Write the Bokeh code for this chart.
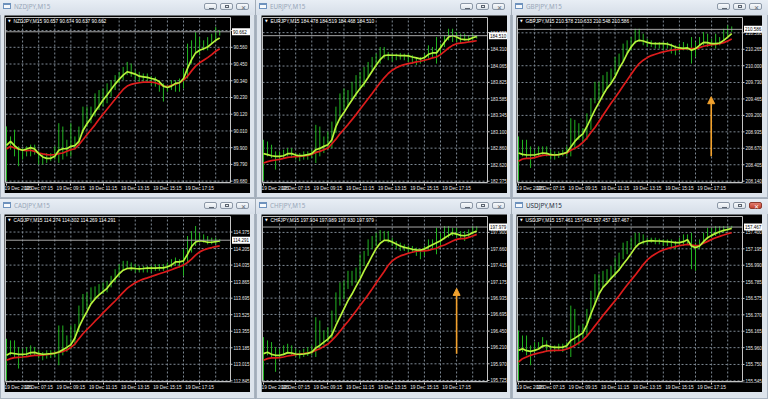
from bokeh.plotting import figure
from bokeh.layouts import row, column
from bokeh.models import Range1d, FixedTicker, Arrow, NormalHead, Div
from bokeh.core.properties import value
from bokeh.embed import file_html
from bokeh.resources import INLINE

# ---------------- shared axis data ----------------
BARS = list(range(54))
TIME_TICKS = [0, 8, 16, 24, 32, 40, 48]
TIME_LABELS = ["19 Dec 2025", "19 Dec 07:15", "19 Dec 09:15", "19 Dec 11:15",
               "19 Dec 13:15", "19 Dec 15:15", "19 Dec 17:15"]
GRID_BARS = list(range(4, 56, 4))

# ---------------- NZDJPY ----------------
NZD_OHLC = [90.657, 90.674, 90.637, 90.662]
NZD_TICKS = [89.680, 89.790, 89.900, 90.010, 90.120, 90.230, 90.340, 90.450, 90.560, 90.670]
NZD_RANGE = (89.671, 90.756)
NZD_HIGH = [90.040, 89.974, 90.018, 89.909, 89.898, 89.909, 89.920, 89.920, 89.876, 89.854,
            89.865, 89.865, 89.909, 90.061, 90.039, 89.952, 90.061, 89.974, 90.039, 90.170,
            90.170, 90.170, 90.257, 90.279, 90.290, 90.323, 90.344, 90.377, 90.399, 90.431,
            90.464, 90.453, 90.410, 90.399, 90.388, 90.388, 90.370, 90.366, 90.344, 90.323,
            90.312, 90.344, 90.344, 90.355, 90.421, 90.584, 90.606, 90.660, 90.627, 90.606,
            90.627, 90.649, 90.693, 90.674]
NZD_LOW = [89.682, 89.887, 89.843, 89.778, 89.822, 89.843, 89.843, 89.854, 89.789, 89.789,
           89.800, 89.811, 89.822, 89.800, 89.822, 89.843, 89.843, 89.887, 89.909, 89.996,
           90.039, 90.061, 90.105, 90.148, 90.170, 90.192, 90.235, 90.279, 90.323, 90.344,
           90.377, 90.366, 90.344, 90.333, 90.333, 90.333, 90.312, 90.301, 90.268, 90.203,
           90.268, 90.279, 90.268, 90.268, 90.290, 90.355, 90.453, 90.529, 90.508, 90.540,
           90.540, 90.584, 90.606, 90.637]
NZD_FAST = [89.915, 89.941, 89.913, 89.891, 89.883, 89.891, 89.900, 89.891, 89.861, 89.839,
            89.830, 89.830, 89.843, 89.883, 89.893, 89.893, 89.909, 89.913, 89.941, 90.013,
            90.057, 90.094, 90.137, 90.174, 90.214, 90.246, 90.283, 90.318, 90.349, 90.377,
            90.399, 90.392, 90.384, 90.370, 90.366, 90.362, 90.355, 90.349, 90.333, 90.305,
            90.296, 90.305, 90.323, 90.327, 90.355, 90.421, 90.479, 90.523, 90.540, 90.551,
            90.562, 90.584, 90.606, 90.621]
NZD_SLOW = [89.891, 89.909, 89.898, 89.891, 89.883, 89.880, 89.883, 89.876, 89.865, 89.859,
            89.854, 89.852, 89.854, 89.861, 89.865, 89.876, 89.887, 89.893, 89.920, 89.952,
            89.985, 90.018, 90.050, 90.087, 90.120, 90.153, 90.185, 90.218, 90.251, 90.283,
            90.305, 90.316, 90.323, 90.327, 90.331, 90.331, 90.331, 90.327, 90.318, 90.305,
            90.301, 90.310, 90.318, 90.327, 90.344, 90.370, 90.405, 90.436, 90.458, 90.475,
            90.492, 90.512, 90.534, 90.551]

# ---------------- EURJPY ----------------
EUR_OHLC = [184.478, 184.519, 184.468, 184.510]
EUR_TICKS = [182.375, 182.620, 182.860, 183.100, 183.345, 183.585, 183.825, 184.065, 184.310, 184.555]
EUR_RANGE = (182.356, 184.777)
EUR_HIGH = [182.983, 182.958, 182.910, 182.813, 182.813, 182.837, 182.861, 182.861, 182.788, 182.788,
            182.813, 182.813, 182.837, 183.202, 183.177, 183.031, 183.104, 183.250, 183.469, 183.663,
            183.736, 183.712, 183.834, 183.931, 183.979, 184.052, 184.125, 184.198, 184.247, 184.344,
            184.344, 184.271, 184.247, 184.247, 184.257, 184.247, 184.247, 184.223, 184.198, 184.198,
            184.247, 184.368, 184.344, 184.490, 184.393, 184.514, 184.612, 184.612, 184.563, 184.539,
            184.539, 184.514, 184.539, 184.519]
EUR_LOW = [182.380, 182.740, 182.715, 182.545, 182.691, 182.715, 182.740, 182.715, 182.691, 182.667,
           182.691, 182.691, 182.715, 182.642, 182.740, 182.788, 182.837, 182.861, 183.080, 183.274,
           183.420, 183.469, 183.566, 183.615, 183.736, 183.761, 183.907, 184.004, 184.052, 184.101,
           184.174, 184.150, 184.125, 184.150, 184.159, 184.150, 184.125, 184.101, 184.077, 184.101,
           184.125, 184.174, 184.198, 184.101, 184.223, 184.344, 184.441, 184.417, 184.417, 184.393,
           184.441, 184.417, 184.441, 184.468]
EUR_FAST = [182.779, 182.764, 182.749, 182.740, 182.740, 182.749, 182.779, 182.779, 182.759, 182.749,
            182.754, 182.764, 182.779, 182.837, 182.856, 182.886, 182.910, 182.983, 183.177, 183.299,
            183.382, 183.479, 183.566, 183.654, 183.736, 183.809, 183.897, 183.989, 184.077, 184.159,
            184.218, 184.227, 184.223, 184.223, 184.218, 184.218, 184.213, 184.198, 184.184, 184.169,
            184.189, 184.237, 184.257, 184.257, 184.334, 184.417, 184.490, 184.514, 184.490, 184.461,
            184.451, 184.456, 184.480, 184.500]
EUR_SLOW = [182.642, 182.662, 182.676, 182.686, 182.696, 182.710, 182.725, 182.730, 182.735, 182.740,
            182.745, 182.754, 182.769, 182.798, 182.813, 182.837, 182.861, 182.924, 182.992, 183.070,
            183.138, 183.206, 183.279, 183.352, 183.430, 183.508, 183.586, 183.663, 183.741, 183.819,
            183.892, 183.955, 184.004, 184.038, 184.067, 184.086, 184.101, 184.111, 184.125, 184.135,
            184.150, 184.164, 184.184, 184.198, 184.232, 184.281, 184.329, 184.368, 184.393, 184.402,
            184.407, 184.417, 184.427, 184.436]

# ---------------- GBPJPY ----------------
GBP_OHLC = [210.578, 210.633, 210.548, 210.586]
GBP_TICKS = [208.140, 208.405, 208.670, 208.935, 209.200, 209.465, 209.730, 210.000, 210.265, 210.530]
GBP_RANGE = (208.119, 210.777)
GBP_HIGH = [208.861, 208.807, 208.807, 208.701, 208.647, 208.701, 208.701, 208.701, 208.647, 208.620,
            208.620, 208.647, 208.701, 209.154, 209.128, 209.074, 208.994, 209.234, 209.475, 209.742,
            209.742, 209.848, 209.902, 209.955, 210.142, 210.196, 210.356, 210.409, 210.462, 210.596,
            210.596, 210.516, 210.436, 210.409, 210.382, 210.382, 210.382, 210.382, 210.356, 210.329,
            210.356, 210.382, 210.356, 210.462, 210.382, 210.462, 210.543, 210.516, 210.436, 210.516,
            210.462, 210.596, 210.649, 210.633]
GBP_LOW = [208.150, 208.540, 208.514, 208.354, 208.514, 208.540, 208.567, 208.540, 208.487, 208.487,
           208.514, 208.540, 208.540, 208.540, 208.647, 208.807, 208.781, 208.807, 208.968, 209.395,
           209.448, 209.555, 209.635, 209.715, 209.848, 209.982, 210.062, 210.196, 210.249, 210.356,
           210.382, 210.329, 210.302, 210.302, 210.276, 210.276, 210.249, 210.276, 210.196, 210.169,
           210.222, 210.249, 210.249, 210.035, 210.142, 210.329, 210.329, 210.302, 210.302, 210.276,
           210.329, 210.409, 210.462, 210.548]
GBP_FAST = [208.594, 208.572, 208.562, 208.562, 208.562, 208.578, 208.594, 208.588, 208.567, 208.562,
            208.567, 208.583, 208.604, 208.690, 208.781, 208.850, 208.903, 209.021, 209.154, 209.288,
            209.405, 209.528, 209.635, 209.715, 209.822, 209.955, 210.062, 210.196, 210.302, 210.382,
            210.409, 210.398, 210.377, 210.361, 210.356, 210.356, 210.356, 210.350, 210.329, 210.302,
            210.286, 210.281, 210.286, 210.249, 210.276, 210.329, 210.377, 210.372, 210.356, 210.356,
            210.366, 210.409, 210.462, 210.516]
GBP_SLOW = [208.460, 208.498, 208.508, 208.508, 208.519, 208.540, 208.556, 208.562, 208.562, 208.562,
            208.567, 208.578, 208.594, 208.637, 208.669, 208.711, 208.765, 208.834, 208.925, 209.005,
            209.101, 209.202, 209.299, 209.395, 209.485, 209.576, 209.672, 209.768, 209.864, 209.955,
            210.035, 210.089, 210.131, 210.163, 210.185, 210.206, 210.222, 210.238, 210.249, 210.260,
            210.265, 210.270, 210.276, 210.276, 210.276, 210.292, 210.313, 210.329, 210.340, 210.345,
            210.356, 210.372, 210.398, 210.430]
GBP_ARROW = (47.9, 208.540, 209.501)   # bar, tail price, tip price

# ---------------- CADJPY ----------------
CAD_OHLC = [114.274, 114.302, 114.269, 114.291]
CAD_TICKS = [112.845, 113.015, 113.185, 113.355, 113.525, 113.695, 113.865, 114.035, 114.205, 114.375]
CAD_RANGE = (112.838, 114.535)
CAD_HIGH = [113.278, 113.261, 113.261, 113.193, 113.176, 113.193, 113.210, 113.193, 113.159, 113.141,
            113.159, 113.159, 113.159, 113.414, 113.414, 113.312, 113.414, 113.431, 113.619, 113.738,
            113.755, 113.806, 113.816, 113.840, 113.857, 113.874, 113.925, 113.993, 114.045, 114.079,
            114.079, 114.062, 114.045, 114.028, 114.028, 114.028, 114.028, 114.045, 114.045, 114.045,
            114.062, 114.096, 114.113, 114.096, 114.198, 114.334, 114.385, 114.437, 114.368, 114.351,
            114.334, 114.317, 114.317, 114.302]
CAD_LOW = [112.850, 113.107, 113.090, 112.971, 113.073, 113.090, 113.107, 113.107, 113.073, 113.056,
           113.073, 113.080, 113.090, 113.005, 113.107, 113.141, 113.176, 113.210, 113.346, 113.482,
           113.585, 113.653, 113.687, 113.738, 113.738, 113.755, 113.806, 113.857, 113.908, 113.976,
           113.993, 113.976, 113.959, 113.959, 113.959, 113.959, 113.959, 113.976, 113.976, 113.976,
           113.993, 114.011, 114.028, 114.011, 113.925, 114.062, 114.164, 114.232, 114.266, 114.266,
           114.249, 114.249, 114.249, 114.269]
CAD_FAST = [113.107, 113.131, 113.124, 113.118, 113.118, 113.121, 113.135, 113.138, 113.124, 113.118,
            113.121, 113.124, 113.128, 113.141, 113.165, 113.189, 113.217, 113.285, 113.397, 113.482,
            113.557, 113.636, 113.687, 113.728, 113.762, 113.796, 113.850, 113.898, 113.946, 113.983,
            114.000, 114.004, 114.000, 113.997, 114.000, 114.004, 114.004, 114.004, 114.007, 114.007,
            114.018, 114.035, 114.069, 114.069, 114.079, 114.147, 114.226, 114.273, 114.287, 114.280,
            114.270, 114.270, 114.276, 114.283]
CAD_SLOW = [113.056, 113.073, 113.084, 113.087, 113.090, 113.094, 113.101, 113.107, 113.107, 113.111,
            113.114, 113.121, 113.131, 113.138, 113.148, 113.162, 113.189, 113.223, 113.278, 113.329,
            113.373, 113.414, 113.458, 113.499, 113.544, 113.585, 113.625, 113.666, 113.711, 113.755,
            113.796, 113.826, 113.854, 113.874, 113.891, 113.904, 113.918, 113.932, 113.946, 113.959,
            113.973, 113.987, 114.004, 114.018, 114.035, 114.062, 114.096, 114.137, 114.171, 114.191,
            114.205, 114.215, 114.226, 114.232]

# ---------------- CHFJPY ----------------
CHF_OHLC = [197.934, 197.989, 197.930, 197.979]
CHF_TICKS = [195.725, 195.970, 196.210, 196.450, 196.695, 196.935, 197.175, 197.415, 197.660, 197.900]
CHF_RANGE = (195.710, 198.134)
CHF_HIGH = [196.362, 196.314, 196.289, 196.216, 196.192, 196.241, 196.265, 196.241, 196.192, 196.168,
            196.192, 196.216, 196.241, 196.654, 196.606, 196.460, 196.508, 196.752, 197.019, 197.165,
            197.190, 197.336, 197.336, 197.384, 197.579, 197.628, 197.798, 197.847, 197.895, 197.934,
            197.920, 197.920, 197.822, 197.774, 197.749, 197.725, 197.701, 197.701, 197.676, 197.652,
            197.701, 197.798, 197.798, 197.968, 197.895, 197.993, 197.993, 197.968, 197.968, 197.920,
            197.920, 197.944, 197.993, 197.989]
CHF_LOW = [195.730, 196.095, 196.070, 195.852, 196.046, 196.095, 196.119, 196.095, 196.070, 196.046,
           196.070, 196.085, 196.095, 196.070, 196.192, 196.241, 196.289, 196.338, 196.581, 196.825,
           196.922, 197.068, 197.117, 197.165, 197.263, 197.409, 197.555, 197.652, 197.701, 197.774,
           197.774, 197.749, 197.701, 197.652, 197.628, 197.628, 197.603, 197.603, 197.555, 197.506,
           197.555, 197.628, 197.652, 197.579, 197.676, 197.798, 197.822, 197.847, 197.822, 197.798,
           197.774, 197.822, 197.871, 197.930]
CHF_FAST = [196.119, 196.139, 196.109, 196.095, 196.095, 196.109, 196.134, 196.129, 196.114, 196.109,
            196.114, 196.124, 196.143, 196.202, 196.241, 196.289, 196.333, 196.396, 196.533, 196.654,
            196.776, 196.898, 196.995, 197.107, 197.214, 197.336, 197.443, 197.555, 197.662, 197.740,
            197.783, 197.783, 197.759, 197.730, 197.701, 197.681, 197.667, 197.652, 197.642, 197.642,
            197.657, 197.691, 197.720, 197.749, 197.778, 197.817, 197.856, 197.890, 197.876, 197.856,
            197.851, 197.866, 197.895, 197.920]
CHF_SLOW = [196.022, 196.046, 196.056, 196.056, 196.061, 196.070, 196.085, 196.095, 196.105, 196.114,
            196.119, 196.129, 196.139, 196.168, 196.192, 196.226, 196.260, 196.314, 196.377, 196.445,
            196.523, 196.591, 196.669, 196.747, 196.825, 196.903, 196.985, 197.068, 197.156, 197.243,
            197.326, 197.418, 197.482, 197.525, 197.555, 197.574, 197.594, 197.608, 197.623, 197.628,
            197.628, 197.637, 197.652, 197.667, 197.696, 197.715, 197.744, 197.774, 197.798, 197.808,
            197.808, 197.827, 197.847, 197.871]
CHF_ARROW = (48.0, 196.119, 197.078)

# ---------------- USDJPY ----------------
USD_OHLC = [157.461, 157.482, 157.457, 157.467]
USD_TICKS = [155.545, 155.750, 155.960, 156.165, 156.370, 156.575, 156.785, 156.990, 157.195, 157.400]
USD_RANGE = (155.537, 157.599)
USD_HIGH = [156.174, 156.112, 156.112, 155.988, 156.029, 156.029, 156.092, 156.050, 155.988, 155.988,
            156.009, 156.009, 156.029, 156.485, 156.444, 156.237, 156.257, 156.444, 156.671, 156.878,
            156.878, 156.920, 156.941, 156.982, 157.085, 157.148, 157.272, 157.293, 157.334, 157.396,
            157.396, 157.375, 157.334, 157.334, 157.334, 157.322, 157.313, 157.313, 157.313, 157.293,
            157.334, 157.375, 157.375, 157.396, 157.272, 157.313, 157.396, 157.458, 157.458, 157.479,
            157.479, 157.479, 157.479, 157.482]
USD_LOW = [155.553, 155.905, 155.864, 155.740, 155.905, 155.947, 155.967, 155.905, 155.905, 155.905,
           155.926, 155.905, 155.947, 155.843, 155.988, 155.988, 156.071, 156.112, 156.319, 156.485,
           156.609, 156.713, 156.775, 156.816, 156.858, 156.920, 157.065, 157.127, 157.189, 157.230,
           157.272, 157.251, 157.251, 157.272, 157.251, 157.251, 157.230, 157.230, 157.210, 157.189,
           157.230, 157.230, 157.251, 156.941, 156.920, 157.189, 157.272, 157.313, 157.334, 157.355,
           157.375, 157.396, 157.417, 157.457]
USD_FAST = [155.926, 155.947, 155.922, 155.914, 155.926, 155.943, 155.980, 155.988, 155.971, 155.963,
            155.963, 155.967, 155.984, 156.050, 156.079, 156.112, 156.145, 156.245, 156.381, 156.506,
            156.630, 156.713, 156.767, 156.825, 156.878, 156.932, 157.003, 157.065, 157.135, 157.210,
            157.259, 157.280, 157.293, 157.297, 157.293, 157.293, 157.288, 157.284, 157.280, 157.272,
            157.272, 157.284, 157.309, 157.230, 157.210, 157.230, 157.284, 157.334, 157.363, 157.388,
            157.408, 157.425, 157.437, 157.450]
USD_SLOW = [155.781, 155.822, 155.843, 155.864, 155.880, 155.893, 155.905, 155.918, 155.922, 155.926,
            155.926, 155.930, 155.943, 155.963, 155.988, 156.021, 156.054, 156.104, 156.166, 156.232,
            156.295, 156.361, 156.423, 156.485, 156.547, 156.609, 156.676, 156.742, 156.804, 156.866,
            156.932, 156.998, 157.056, 157.098, 157.131, 157.160, 157.181, 157.197, 157.210, 157.222,
            157.235, 157.243, 157.251, 157.243, 157.235, 157.239, 157.264, 157.288, 157.313, 157.334,
            157.351, 157.367, 157.384, 157.396]

PANELS = [
    dict(sym="NZDJPY,M15", ohlc=NZD_OHLC, hi=NZD_HIGH, lo=NZD_LOW, fast=NZD_FAST, slow=NZD_SLOW,
         ticks=NZD_TICKS, yr=NZD_RANGE, arrow=None, active=False),
    dict(sym="EURJPY,M15", ohlc=EUR_OHLC, hi=EUR_HIGH, lo=EUR_LOW, fast=EUR_FAST, slow=EUR_SLOW,
         ticks=EUR_TICKS, yr=EUR_RANGE, arrow=None, active=False),
    dict(sym="GBPJPY,M15", ohlc=GBP_OHLC, hi=GBP_HIGH, lo=GBP_LOW, fast=GBP_FAST, slow=GBP_SLOW,
         ticks=GBP_TICKS, yr=GBP_RANGE, arrow=GBP_ARROW, active=False),
    dict(sym="CADJPY,M15", ohlc=CAD_OHLC, hi=CAD_HIGH, lo=CAD_LOW, fast=CAD_FAST, slow=CAD_SLOW,
         ticks=CAD_TICKS, yr=CAD_RANGE, arrow=None, active=False),
    dict(sym="CHFJPY,M15", ohlc=CHF_OHLC, hi=CHF_HIGH, lo=CHF_LOW, fast=CHF_FAST, slow=CHF_SLOW,
         ticks=CHF_TICKS, yr=CHF_RANGE, arrow=CHF_ARROW, active=False),
    dict(sym="USDJPY,M15", ohlc=USD_OHLC, hi=USD_HIGH, lo=USD_LOW, fast=USD_FAST, slow=USD_SLOW,
         ticks=USD_TICKS, yr=USD_RANGE, arrow=None, active=True),
]

# ---------------- styling / geometry ----------------
CLIENT_W, CLIENT_H = 246, 178
BAR_PX = 4.023                  # screen pixels per 15-minute bar
PXB = 1.0 / BAR_PX              # one pixel, in bar units
X_RANGE_START = -2 * PXB
X_PLOT_START = -1 * PXB
X_PLOT_END = X_RANGE_START + 226 * PXB
X_RANGE_END = X_RANGE_START + CLIENT_W * PXB
PLOT_PX_H = 166                 # pixels between the chart's top and bottom border lines

WIN_W = [255, 255, 256]
WIN_LEFT = [4, 5, 4]
ROW_H = [198, 200]
ROW_BOTTOM = [5, 7]
CHROME = "#dde4ec"
GAP = "#a3adb8"
BAR_COLOR = "#22b422"
FAST_COLOR = "#b6f23c"
SLOW_COLOR = "#dc1c1c"
GRID_COLOR = "#7d8893"
BORDER_COLOR = "#c4c4c4"
TEXT_COLOR = "#e8e8e8"
ORANGE = "#f2a22e"
FONT = "Liberation Sans"
FS = "4.8px"
PFS = "4.5px"


def title_bar(sym, width, active):
    tc = "#1f2d3d" if active else "#97a6b8"
    base = ("position:absolute;top:3px;width:13px;height:7px;border:1px solid #8c98a7;"
            "border-radius:2px;background:linear-gradient(#f8fafc,#dce3ea);")
    close_bg = ("background:linear-gradient(#e27d6f,#c2422f);border-color:#8d3a2e;"
                if active else "")
    xc = "#ffffff" if active else "#5b6470"
    return (
        f'<div style="position:relative;width:{width}px;height:15px;overflow:hidden;">'
        '<div style="position:absolute;left:3px;top:3px;width:8px;height:6px;'
        'border:1px solid #6e92bd;border-top-width:2px;background:#f6f9fc;"></div>'
        f'<div style="position:absolute;left:14px;top:2px;font-family:\'Noto Sans\',sans-serif;'
        f'font-size:6.3px;line-height:10px;color:{tc};white-space:nowrap;">{sym}</div>'
        f'<div style="{base}right:38px;"><div style="position:absolute;left:4px;top:4px;'
        'width:5px;height:1px;background:#5b6470;"></div></div>'
        f'<div style="{base}right:22px;"><div style="position:absolute;left:4px;top:1px;'
        'width:4px;height:3px;border:1px solid #5b6470;"></div></div>'
        f'<div style="{base}{close_bg}right:6px;"><div style="position:absolute;left:0;top:0;'
        f'width:13px;text-align:center;font-family:\'DejaVu Sans\';font-size:6px;'
        f'line-height:7px;color:{xc};">&#10005;</div></div>'
        '</div>')


def make_chart(spec, left, right, bottom):
    y0, y1 = spec["yr"]                  # prices at the bottom and top border lines
    s = (y1 - y0) / PLOT_PX_H            # price per pixel
    p = figure(width=CLIENT_W, height=CLIENT_H,
               x_range=Range1d(X_RANGE_START, X_RANGE_END),
               y_range=Range1d(y0 - s, y1 + 2 * s),
               output_backend="svg", toolbar_location=None, tools="",
               y_axis_location=None,
               background_fill_color="black", border_fill_color="black",
               min_border_left=0, min_border_right=0, min_border_top=0, min_border_bottom=9,
               outline_line_color=None, margin=(0, right, bottom, left))
    p.xgrid.visible = False
    p.ygrid.visible = False

    # time axis
    xa = p.xaxis[0]
    xa.ticker = FixedTicker(ticks=TIME_TICKS)
    xa.major_label_overrides = {t: lab for t, lab in zip(TIME_TICKS, TIME_LABELS)}
    xa.major_label_text_align = "left"
    xa.axis_line_color = None
    xa.major_tick_line_color = BORDER_COLOR
    xa.major_tick_out = 2
    xa.major_tick_in = 0
    xa.minor_tick_line_color = None
    xa.major_label_standoff = 0
    xa.major_label_text_font = FONT
    xa.major_label_text_font_size = FS
    xa.major_label_text_color = TEXT_COLOR

    ticks = spec["ticks"]
    # grid (dotted), inside the chart border
    p.segment(x0=[X_PLOT_START] * len(ticks), y0=ticks, x1=[X_PLOT_END] * len(ticks), y1=ticks,
              line_color=GRID_COLOR, line_dash="2 2", line_width=1)
    p.segment(x0=GRID_BARS, y0=[y0] * len(GRID_BARS), x1=GRID_BARS, y1=[y1] * len(GRID_BARS),
              line_color=GRID_COLOR, line_dash="2 2", line_width=1)

    # bars and moving averages
    p.segment(x0=BARS, y0=spec["lo"], x1=BARS, y1=spec["hi"],
              line_color=BAR_COLOR, line_width=1)
    p.line(BARS, spec["slow"], line_color=SLOW_COLOR, line_width=1.7)
    p.line(BARS, spec["fast"], line_color=FAST_COLOR, line_width=1.7)

    # bid line
    bid = spec["ohlc"][3]
    p.segment(x0=[X_PLOT_START], y0=[bid], x1=[X_PLOT_END], y1=[bid],
              line_color="#a8a8a8", line_width=1)

    # chart border
    p.segment(x0=[X_PLOT_START, X_PLOT_START, X_PLOT_START, X_PLOT_END],
              y0=[y0, y1, y0, y0],
              x1=[X_PLOT_END, X_PLOT_END, X_PLOT_START, X_PLOT_END],
              y1=[y0, y1, y1, y1], line_color=BORDER_COLOR, line_width=1)

    # price scale: ticks and labels
    p.segment(x0=[X_PLOT_END] * len(ticks), y0=ticks, x1=[X_PLOT_END + 2 * PXB] * len(ticks),
              y1=ticks, line_color=BORDER_COLOR, line_width=1)
    p.text(x=[X_PLOT_END + 3 * PXB] * len(ticks), y=ticks, text=[f"{t:.3f}" for t in ticks],
           text_font=value(FONT), text_font_size=value(PFS), text_color=TEXT_COLOR,
           text_align="left", text_baseline="middle")

    # bid price box
    p.rect(x=[X_PLOT_END + 10.5 * PXB], y=[bid], width=18, height=7,
           width_units="screen", height_units="screen",
           fill_color="white", line_color=None)
    p.text(x=[X_PLOT_END + 2.5 * PXB], y=[bid], text=[f"{bid:.3f}"],
           text_font=value(FONT), text_font_size=value(PFS), text_color="black",
           text_align="left", text_baseline="middle")

    # info line
    iy = y1 - 4 * s
    info = spec["sym"] + "  " + " ".join(f"{v:.3f}" for v in spec["ohlc"])
    p.text(x=[X_PLOT_START + 2.5 * PXB], y=[iy], text=["\u25bc"],
           text_font=value("DejaVu Sans"), text_font_size=value("3.5px"), text_color="white",
           text_align="left", text_baseline="middle")
    p.text(x=[X_PLOT_START + 8 * PXB], y=[iy], text=[info],
           text_font=value(FONT), text_font_size=value(FS), text_color="white",
           text_align="left", text_baseline="middle")

    if spec["arrow"] is not None:
        bx, a0, a1 = spec["arrow"]
        p.add_layout(Arrow(end=NormalHead(size=7, fill_color=ORANGE, line_color=ORANGE,
                                          line_width=1),
                           x_start=bx, y_start=a0, x_end=bx, y_end=a1,
                           line_color=ORANGE, line_width=1.6))
    return p


def make_window(spec, width, left, height, bottom):
    right = width - left - CLIENT_W
    div = Div(text=title_bar(spec["sym"], width, spec["active"]), width=width, height=15,
              margin=(0, 0, 0, 0),
              styles={"background": "linear-gradient(#e8eef5,#d6dee8)", "overflow": "hidden"})
    p = make_chart(spec, left, right, bottom)
    return column(div, p, width=width, height=height, spacing=0,
                  styles={"background-color": CHROME,
                          "box-shadow": "inset 0 0 0 1px #a9b4c1"})


rows = []
for r in range(2):
    wins = []
    for c in range(3):
        spec = PANELS[r * 3 + c]
        wins.append(make_window(spec, WIN_W[c], WIN_LEFT[c], ROW_H[r], ROW_BOTTOM[r]))
    rows.append(row(*wins, spacing=1, width=768, height=ROW_H[r]))

layout = column(*rows, spacing=1, width=768, height=399,
                styles={"background-color": GAP})

open("out.html", "w").write(file_html(layout, INLINE, title="MT4 JPY crosses"))
